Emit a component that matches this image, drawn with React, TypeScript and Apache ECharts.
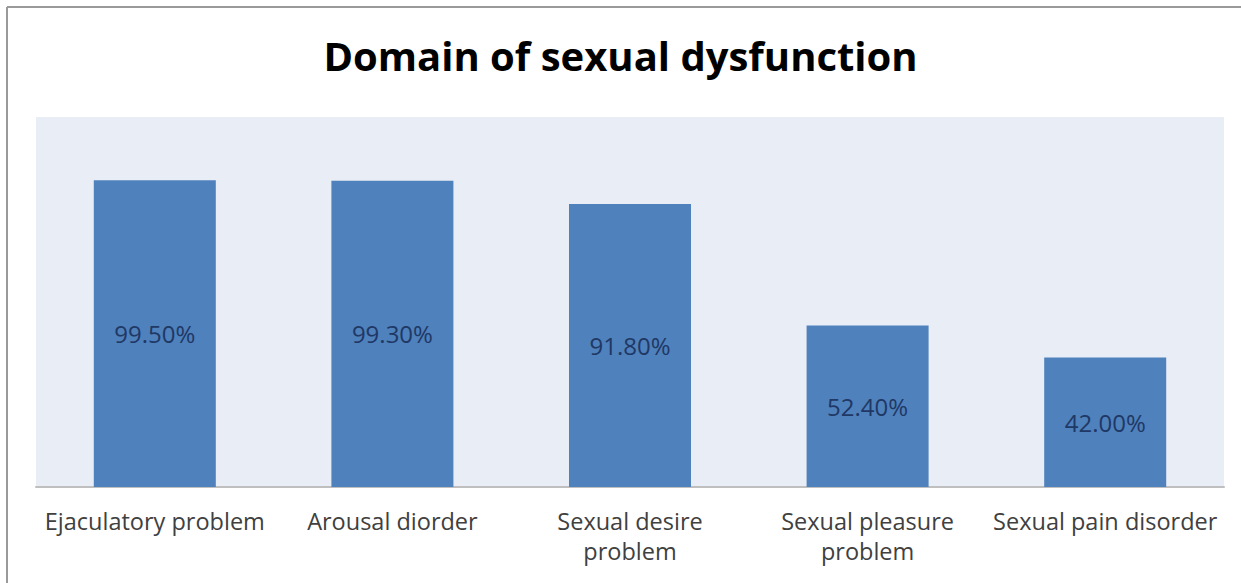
import React, { useEffect, useRef } from "react";
import * as echarts from "echarts";

const categories = [
  "Ejaculatory problem",
  "Arousal diorder",
  "Sexual desire\nproblem",
  "Sexual pleasure\nproblem",
  "Sexual pain disorder",
];
const values = [99.5, 99.3, 91.8, 52.4, 42.0];
const titleText = "Domain of sexual dysfunction";

const FONT = "Open Sans";

export default function App() {
  const ref = useRef<HTMLDivElement>(null);
  useEffect(() => {
    document.body.style.margin = "0";
    const chart = echarts.init(ref.current!, null, { renderer: "svg" });
    chart.setOption({
      animation: false,
      backgroundColor: "#ffffff",
      title: {
        text: titleText,
        left: "center",
        top: 30,
        textStyle: {
          fontFamily: FONT,
          fontSize: 40,
          fontWeight: "bold",
          color: "#000000",
        },
      },
      graphic: [
        {
          type: "line",
          shape: { x1: 7, y1: 7, x2: 1241, y2: 7 },
          style: { stroke: "#9a9a9a", lineWidth: 2 },
        },
        {
          type: "line",
          shape: { x1: 7, y1: 7, x2: 7, y2: 583 },
          style: { stroke: "#9a9a9a", lineWidth: 2 },
        },
      ],
      grid: {
        left: 36,
        right: 17,
        top: 117,
        bottom: 96,
        show: true,
        backgroundColor: "#E9EDF5",
        borderWidth: 0,
      },
      xAxis: {
        type: "category",
        data: categories,
        axisLine: { show: true, lineStyle: { color: "#BFBFBF", width: 2 } },
        axisTick: { show: false },
        axisLabel: {
          interval: 0,
          margin: 19,
          fontFamily: FONT,
          fontSize: 23.5,
          lineHeight: 30,
          color: "#404040",
        },
      },
      yAxis: {
        type: "value",
        min: 0,
        max: 120,
        show: false,
        splitLine: { show: false },
      },
      series: [
        {
          type: "bar",
          data: values,
          barWidth: 122,
          itemStyle: { color: "#4F81BD" },
          label: {
            show: true,
            position: "inside",
            formatter: (p: any) => p.value.toFixed(2) + "%",
            fontFamily: FONT,
            fontSize: 24,
            color: "#1F3864",
          },
        },
      ],
    });
    return () => chart.dispose();
  }, []);
  return <div ref={ref} style={{ width: 1241, height: 583 }} />;
}
